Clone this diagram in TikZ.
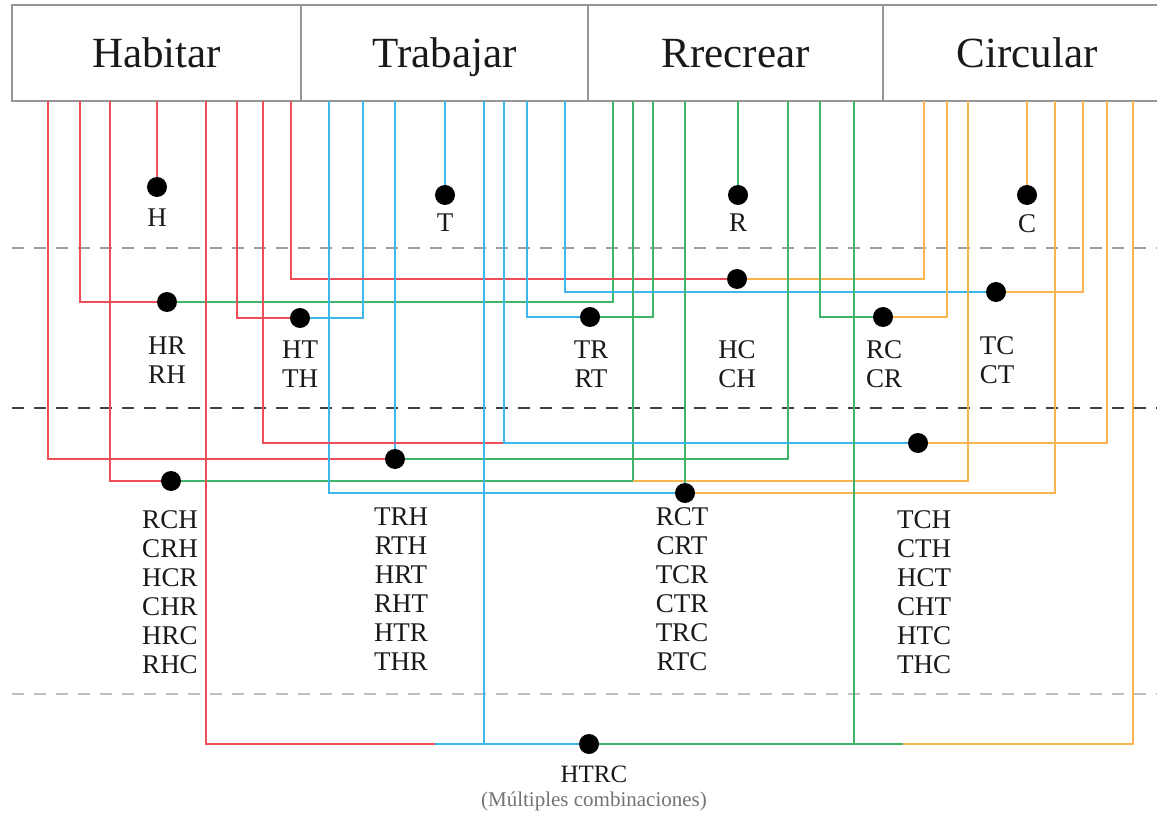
\documentclass[tikz,border=0pt]{standalone}
\usepackage{fontspec}
\setmainfont{Liberation Serif}
\definecolor{habred}{RGB}{238,78,88}
\definecolor{trablue}{RGB}{60,182,236}
\definecolor{recgreen}{RGB}{64,180,104}
\definecolor{ciror}{RGB}{250,182,78}
\definecolor{boxgray}{RGB}{150,150,150}
\begin{document}
\begin{tikzpicture}
[
    x=1pt, y=-1pt,
    every node/.style={inner sep=0pt, outer sep=0pt, text=black!90},
    cell/.style={shape=rectangle, draw=boxgray, line width=1.2pt, minimum height=96pt, text depth=0pt, font=\fontsize{43}{50}\selectfont},
    dot/.style={shape=circle, fill=black, minimum size=20pt},
    combo/.style={anchor=north, align=center, font=\fontsize{27}{29}\selectfont},
    sep/.style={line width=1.6pt, dash pattern=on 12pt off 10pt},
    hab/.style={draw=habred, line width=1.8pt},
    tra/.style={draw=trablue, line width=1.8pt},
    rec/.style={draw=recgreen, line width=1.8pt},
    cir/.style={draw=ciror, line width=1.8pt},
]
\useasboundingbox (0,0) rectangle (1157,818);
\clip (0,0) rectangle (1157,818);

% separators between the levels
\draw[sep, draw=black!38] (12,248) -- (1157,248);
\draw[sep, draw=black!75] (12,408) -- (1157,408);
\draw[sep, draw=black!25] (12,694) -- (1157,694);

% header cells
\node[cell, minimum width=289pt] (hab) at (156.5,53) {Habitar};
\node[cell, minimum width=287pt] (tra) at (444.5,53) {Trabajar};
\node[cell, minimum width=295pt] (rec) at (735.5,53) {Rrecrear};
\node[cell, minimum width=288pt] (cir) at (1027,53) {Circular};

% ports under the cells
\foreach \x in {48,80,110,157,206,237,263,291} \coordinate (h\x) at (\x,101);
\foreach \x in {329,363,395,445,484,504,527,565} \coordinate (t\x) at (\x,101);
\foreach \x in {613,633,653,685,738,788,820,854} \coordinate (r\x) at (\x,101);
\foreach \x in {924,947,968,1027,1055,1083,1107,1133} \coordinate (c\x) at (\x,101);

% dots
\node[dot] (H) at (157,187) {};
\node[dot] (T) at (445,195) {};
\node[dot] (R) at (738,195) {};
\node[dot] (C) at (1027,195) {};

\node[dot] (HR) at (167,302) {};
\node[dot] (HT) at (300,318) {};
\node[dot] (HC) at (737,279) {};
\node[dot] (TR) at (590,317) {};
\node[dot] (TC) at (996,292) {};
\node[dot] (RC) at (883,317) {};

\node[dot] (TRH) at (395,459) {};
\node[dot] (RCH) at (171,481) {};
\node[dot] (RCT) at (685,493) {};
\node[dot] (TCH) at (918,443) {};

\node[dot] (HTRC) at (589,744) {};

% one
\draw[hab] (h157) -- (H);
\draw[tra] (t445) -- (T);
\draw[rec] (r738) -- (R);
\draw[cir] (c1027) -- (C);

% two
\draw[hab] (h80) |- (HR);
\draw[rec] (HR) -| (r613);
\draw[hab] (h237) |- (HT);
\draw[tra] (HT) -| (t363);
\draw[hab] (h291) |- (HC);
\draw[cir] (HC) -| (c924);
\draw[tra] (t527) |- (TR);
\draw[rec] (TR) -| (r653);
\draw[tra] (t565) |- (TC);
\draw[cir] (TC) -| (c1083);
\draw[rec] (r820) |- (RC);
\draw[cir] (RC) -| (c947);

% three
\draw[hab] (h48) |- (TRH);
\draw[tra] (t395) -- (TRH);
\draw[rec] (TRH) -| (r788);
\draw[hab] (h110) |- (RCH);
\draw[rec] (RCH) -| (r633);
\draw[cir] (c968) |- (RCH -| r633);
\draw[tra] (t329) |- (RCT);
\draw[rec] (r685) -- (RCT);
\draw[cir] (RCT) -| (c1055);
\draw[hab] (h263) |- (TCH -| t504);
\draw[tra] (t504) |- (TCH);
\draw[cir] (TCH) -| (c1107);

% four
\coordinate (hsplit) at (435,744);
\coordinate (csplit) at (903,744);
\draw[hab] (h206) |- (hsplit);
\draw[tra] (hsplit) -- (HTRC);
\draw[tra] (t484) -- (t484 |- HTRC);
\draw[rec] (HTRC) -- (csplit);
\draw[rec] (r854) -- (r854 |- HTRC);
\draw[cir] (csplit) -| (c1133);

% labels
\node[combo] (lH) at (157,209) {H};
\node[combo] (lT) at (445,214) {T};
\node[combo] (lR) at (738,214) {R};
\node[combo] (lC) at (1027,215) {C};

\node[combo] (lHR) at (167,337) {HR\\RH};
\node[combo] (lHT) at (300,341) {HT\\TH};
\node[combo] (lTR) at (591,341) {TR\\RT};
\node[combo] (lHC) at (737,341) {HC\\CH};
\node[combo] (lRC) at (884,341) {RC\\CR};
\node[combo] (lTC) at (997,337) {TC\\CT};

\node[combo] (lRCH) at (170,511) {RCH\\CRH\\HCR\\CHR\\HRC\\RHC};
\node[combo] (lTRH) at (401,508) {TRH\\RTH\\HRT\\RHT\\HTR\\THR};
\node[combo] (lRCT) at (682,508) {RCT\\CRT\\TCR\\CTR\\TRC\\RTC};
\node[combo] (lTCH) at (924,511) {TCH\\CTH\\HCT\\CHT\\HTC\\THC};

\node[combo, font=\fontsize{25}{28}\selectfont] (lHTRC) at (594,766) {HTRC};
\node[font=\fontsize{21}{24}\selectfont, text=black!55] (lmulti) at (594,801) {(Múltiples combinaciones)};

\end{tikzpicture}
\end{document}
